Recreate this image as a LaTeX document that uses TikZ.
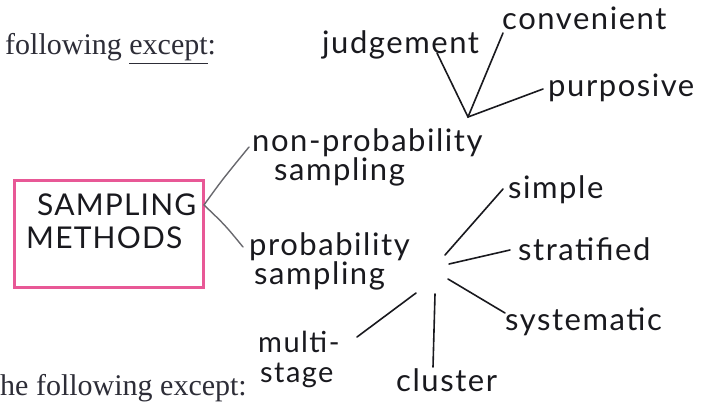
\documentclass[tikz,border=0pt]{standalone}
\usepackage{fontspec}
\setmainfont{Liberation Serif}
\newfontfamily\hand[LetterSpace=5]{Lato}
\newfontfamily\handcaps[LetterSpace=4]{Lato}
\definecolor{ink}{RGB}{25,25,30}
\definecolor{print}{RGB}{45,45,55}
\definecolor{pinkbox}{RGB}{232,88,150}
\definecolor{grayln}{RGB}{105,105,110}
\begin{document}
\begin{tikzpicture}[x=1pt,y=-1pt,
  hw/.style={font=\hand\fontsize{31}{27}\selectfont, inner sep=0pt, text=ink, align=left},
  printed/.style={font=\fontsize{30}{30}\selectfont, inner sep=0pt, text=print},
  ln/.style={draw=ink, line width=1.6pt, line cap=round},
  gln/.style={draw=grayln, line width=1.4pt, line cap=round},
  boxst/.style={draw=pinkbox, line width=3pt, minimum width=189pt, minimum height=107pt, inner sep=0pt}]
\useasboundingbox (0,0) rectangle (708,401);
% printed question fragments
\node[printed, anchor=base west] (q1) at (5,55) {following \underline{except}:};
\node[printed, anchor=base west] (q2) at (0,395) {he following except:};
% central box
\node[boxst] (box) at (108.5,233.5) {};
\node[font=\handcaps\fontsize{30}{33}\selectfont, text=ink, inner sep=0pt, align=left, anchor=north west] (title) at (37,194)
  {SAMPLING\\\hspace*{-11pt}METHODS};
% main branches
\node[hw, anchor=west] (nonprob) at (252,157) {non-probability\\\hspace*{22pt}sampling};
\node[hw, anchor=west] (prob) at (249,261) {probability\\\hspace*{5pt}sampling};
% non-probability leaves
\node[hw, anchor=west] (judg) at (322,45) {judgement};
\node[hw, anchor=west] (conv) at (502,18) {convenient};
\node[hw, anchor=west] (purp) at (548,88) {purposive};
% probability leaves
\node[hw, anchor=west] (simp) at (508,190) {simple};
\node[hw, anchor=west] (strat) at (518,249) {stratified};
\node[hw, anchor=west] (syst) at (505,322) {systematic};
\node[hw, anchor=west] (clus) at (396,380) {cluster};
\node[hw, anchor=west, font=\hand\fontsize{29}{30}\selectfont] (multi) at (258,359) {multi-\\\hspace*{2pt}stage};
% connector end points
\coordinate (bx) at (204,205);
\coordinate (np) at (249,147);
\coordinate (pb) at (243,247);
\coordinate (hubA) at (468,117);
\coordinate (jA) at (437,53);
\coordinate (cA) at (503,33);
\coordinate (pA) at (543,89);
\coordinate (sB0) at (445,255);
\coordinate (sB) at (503,189);
\coordinate (tB0) at (449,264);
\coordinate (tB) at (510,250);
\coordinate (yB0) at (448,279);
\coordinate (yB) at (505,313);
\coordinate (cB0) at (435,294);
\coordinate (cB) at (433,367);
\coordinate (mB0) at (416,293);
\coordinate (mB) at (357,337);
% connectors
\draw[gln] (bx) .. controls (222,180) .. (np);
\draw[gln] (bx) .. controls (225,225) .. (pb);
\draw[ln] (jA) -- (hubA) -- (pA);
\draw[ln] (cA) -- (hubA);
\draw[ln] (sB0) -- (sB);
\draw[ln] (tB0) -- (tB);
\draw[ln] (yB0) -- (yB);
\draw[ln] (cB0) -- (cB);
\draw[ln] (mB0) -- (mB);
\end{tikzpicture}
\end{document}
